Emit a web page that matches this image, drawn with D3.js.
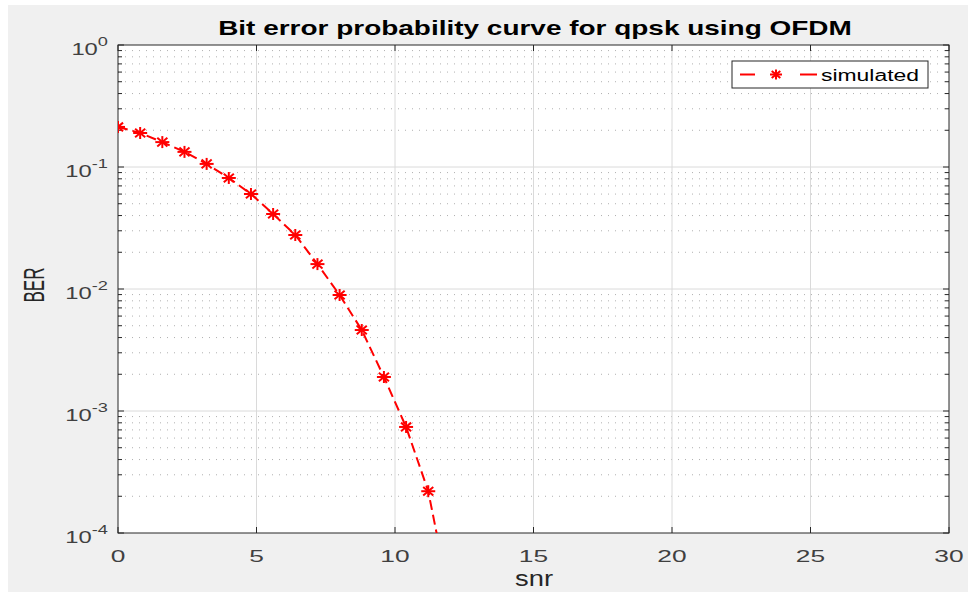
<!DOCTYPE html>
<html><head><meta charset="utf-8">
<script src="https://cdn.jsdelivr.net/npm/d3@7"></script>
<style>body{margin:0;background:#fff}svg{display:block;font-family:"Liberation Sans",Arial,sans-serif}</style>
</head><body><svg id="c" width="968" height="592"></svg>
<script>
const snr = [0,0.8,1.6,2.4,3.2,4.0,4.8,5.6,6.4,7.2,8.0,8.8,9.6,10.4,11.2,12.0];
const ber = [0.213,0.190,0.160,0.133,0.106,0.0813,0.0601,0.0412,0.0277,0.0160,0.00893,0.00461,0.0019,0.00074,0.00022,0.000027];
const xTicks = [0,5,10,15,20,25,30];
const yExps = [0,-1,-2,-3,-4];
const title = "Bit error probability curve for qpsk using OFDM";
const xLabel = "snr", yLabel = "BER", seriesName = "simulated";

const svg = d3.select("#c");
const L=118,R=949,T=45,B=533;
svg.append("rect").attr("x",8).attr("y",5).attr("width",960).attr("height",587).attr("fill","#f0f0f0");
const x = d3.scaleLinear().domain([0,30]).range([L,R]);
const y = d3.scaleLog().domain([1e-4,1]).range([B,T]);
svg.append("rect").attr("x",L).attr("y",T).attr("width",R-L).attr("height",B-T).attr("fill","#fff");

function stretch(t, w, ax, ay){
  const bw = t.node().getBBox().width;
  const s = w/bw;
  t.attr("transform",`translate(${ax},${ay}) scale(${s},1) translate(${-ax},${-ay})`);
}

const minors=[];
for(let e=-4;e<0;e++) for(let k=2;k<=9;k++) minors.push(k*Math.pow(10,e));
const g=svg.append("g");
g.selectAll(".mg").data(minors).join("line").attr("x1",L).attr("x2",R)
 .attr("y1",d=>y(d)).attr("y2",d=>y(d)).attr("stroke","#b0b0b0").attr("stroke-width",1).attr("stroke-dasharray","1,6");
g.selectAll(".gx").data(xTicks.slice(1,-1)).join("line").attr("x1",d=>x(d)).attr("x2",d=>x(d))
 .attr("y1",T).attr("y2",B).attr("stroke","#dadada").attr("stroke-width",1);
g.selectAll(".gy").data(yExps.slice(1,-1)).join("line").attr("x1",L).attr("x2",R)
 .attr("y1",d=>y(Math.pow(10,d))).attr("y2",d=>y(Math.pow(10,d))).attr("stroke","#dadada").attr("stroke-width",1);

const ax=svg.append("g").attr("stroke","#262626").attr("stroke-width",1);
ax.append("rect").attr("x",L).attr("y",T).attr("width",R-L).attr("height",B-T).attr("fill","none");
xTicks.forEach(t=>{ax.append("line").attr("x1",x(t)).attr("x2",x(t)).attr("y1",B).attr("y2",B-6);
 ax.append("line").attr("x1",x(t)).attr("x2",x(t)).attr("y1",T).attr("y2",T+6);});
yExps.forEach(e=>{const v=y(Math.pow(10,e));ax.append("line").attr("x1",L).attr("x2",L+6).attr("y1",v).attr("y2",v);
 ax.append("line").attr("x1",R).attr("x2",R-6).attr("y1",v).attr("y2",v);});
minors.forEach(m=>{const v=y(m);ax.append("line").attr("x1",L).attr("x2",L+4).attr("y1",v).attr("y2",v);
 ax.append("line").attr("x1",R).attr("x2",R-4).attr("y1",v).attr("y2",v);});

xTicks.forEach(d=>{
  const t=svg.append("text").attr("x",x(d)).attr("y",562).attr("text-anchor","middle")
   .attr("font-size",17).attr("fill","#404040").text(d);
  t.attr("transform",`translate(${x(d)},562) scale(1.55,1) translate(${-x(d)},-562)`);
});
yExps.forEach(e=>{const yy=y(Math.pow(10,e))+10.5;
 const t=svg.append("text").attr("x",108).attr("y",yy).attr("text-anchor","end")
 .attr("font-size",17).attr("fill","#404040");
 t.append("tspan").text("10");
 t.append("tspan").attr("dy",-9).attr("font-size",13).text(e===0?"0":"-"+(-e));
 t.attr("transform",`translate(108,${yy}) scale(1.4,1) translate(-108,${-yy})`);
});

const tt=svg.append("text").attr("x",535).attr("y",35).attr("text-anchor","middle").attr("font-size",21).attr("font-weight","bold").attr("fill","#000").text(title);
stretch(tt,634,535,35);
const xl=svg.append("text").attr("x",534).attr("y",586).attr("text-anchor","middle").attr("font-size",22).attr("fill","#262626").text(xLabel);
stretch(xl,38,534,586);
svg.append("text").attr("transform",`translate(44,285) scale(1.7,1) rotate(-90)`).attr("text-anchor","middle").attr("font-size",17).attr("fill","#262626").text(yLabel);

svg.append("clipPath").attr("id","cp").append("rect").attr("x",L).attr("y",T).attr("width",R-L).attr("height",B-T);
const pts=snr.map((s,i)=>[s,ber[i]]);
const line=d3.line().x(d=>x(d[0])).y(d=>y(d[1]));
svg.append("path").attr("clip-path","url(#cp)").attr("d",line(pts)).attr("fill","none").attr("stroke","#ff0000")
 .attr("stroke-width",2).attr("stroke-dasharray","10,5");
function star(gg,cx,cy,rx,ry){
 const s=gg.append("g").attr("stroke","#ff0000").attr("stroke-width",2);
 const dx=rx*0.72, dy=ry*0.72;
 s.append("line").attr("x1",cx-rx).attr("x2",cx+rx).attr("y1",cy).attr("y2",cy);
 s.append("line").attr("x1",cx).attr("x2",cx).attr("y1",cy-ry).attr("y2",cy+ry);
 s.append("line").attr("x1",cx-dx).attr("x2",cx+dx).attr("y1",cy-dy).attr("y2",cy+dy);
 s.append("line").attr("x1",cx-dx).attr("x2",cx+dx).attr("y1",cy+dy).attr("y2",cy-dy);
}
const mk=svg.append("g").attr("clip-path","url(#cp)");
pts.filter(d=>d[1]>=1e-4).forEach(d=>star(mk,x(d[0]),y(d[1]),7,6));

const lg=svg.append("g");
lg.append("rect").attr("x",732).attr("y",61).attr("width",196).attr("height",27).attr("fill","#fff").attr("stroke","#262626");
lg.append("line").attr("x1",740).attr("x2",755).attr("y1",74.5).attr("y2",74.5).attr("stroke","#ff0000").attr("stroke-width",2);
lg.append("line").attr("x1",800).attr("x2",817).attr("y1",74.5).attr("y2",74.5).attr("stroke","#ff0000").attr("stroke-width",2);
star(lg,776,74.5,6,5);
const lt=lg.append("text").attr("x",821).attr("y",81).attr("font-size",16).attr("fill","#000").text(seriesName);
stretch(lt,98,821,81);
</script></body></html>
